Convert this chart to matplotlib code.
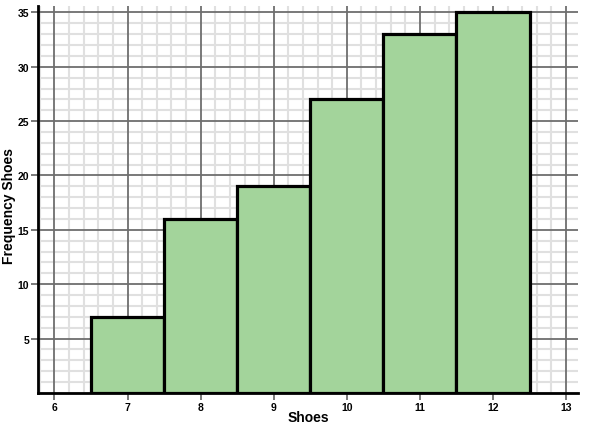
import numpy as np
import matplotlib.pyplot as plt
from matplotlib.ticker import MultipleLocator

shoe_sizes = [7, 8, 9, 10, 11, 12]
frequencies = [7, 16, 19, 27, 33, 35]
x_ticks = [6, 7, 8, 9, 10, 11, 12, 13]
y_ticks = [5, 10, 15, 20, 25, 30, 35]

plt.rcParams['font.family'] = ['Liberation Sans', 'DejaVu Sans']

fig = plt.figure(figsize=(6, 4.31), dpi=100)
ax = fig.add_axes([0.064, 0.086, 0.899, 0.898])

ax.bar(shoe_sizes, frequencies, width=1.0, color='#a3d49b',
       edgecolor='black', linewidth=2.3, zorder=3)

ax.set_xlim(5.78, 13.16)
ax.set_ylim(0, 35.6)
ax.set_xticks(x_ticks)
ax.set_yticks(y_ticks)
ax.xaxis.set_minor_locator(MultipleLocator(0.2))
ax.yaxis.set_minor_locator(MultipleLocator(1))

# light minor grid behind, darker major lines on top of it
ax.grid(which='minor', color='#e0e0e0', linewidth=1.5)
ax.set_axisbelow(True)
for xv in x_ticks:
    ax.axvline(xv, color='#6e6e6e', linewidth=1.3, zorder=1)
for yv in y_ticks:
    ax.axhline(yv, color='#6e6e6e', linewidth=1.3, zorder=1)

for s in ['top', 'right']:
    ax.spines[s].set_visible(False)
for s in ['left', 'bottom']:
    ax.spines[s].set_linewidth(2)
    ax.spines[s].set_color('black')
    ax.spines[s].set_zorder(4)

ax.tick_params(which='major', length=5, width=1.3, color='#6e6e6e',
               labelsize=7.5, pad=1.5)
ax.tick_params(which='minor', length=0)
for lbl in ax.get_xticklabels() + ax.get_yticklabels():
    lbl.set_fontweight('bold')

ax.set_xlabel('Shoes', fontsize=10, fontweight='bold')
ax.set_ylabel('Frequency Shoes', fontsize=10, fontweight='bold')
ax.yaxis.set_label_coords(-0.042, 0.486)
ax.xaxis.set_label_coords(0.5, -0.045)

fig.savefig('out.png', dpi=100)
